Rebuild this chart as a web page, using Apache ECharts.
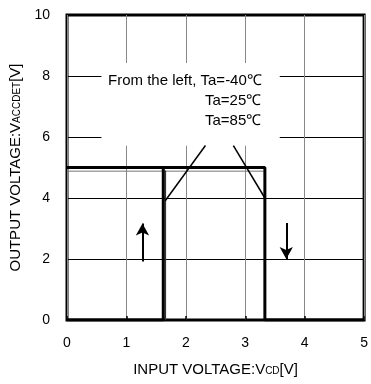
<!DOCTYPE html>
<html>
<head>
<meta charset="utf-8">
<script src="https://cdn.jsdelivr.net/npm/echarts@6/dist/echarts.min.js"></script>
<style>
  html, body { margin: 0; padding: 0; background: #fff; }
  #box { width: 371px; height: 384px; }
</style>
</head>
<body>
<div id="box"></div>
<script>
// hysteresis of output voltage vs input voltage
var xTicks = [0, 1, 2, 3, 4, 5];
var yTicks = [0, 2, 4, 6, 8, 10];

// thick outline of the loop
var fallPath = [[0, 5.0], [3.33, 5.0], [3.33, 0], [5, 0]];
var risePath = [[0, 0], [1.62, 0], [1.62, 5.0]];
// slightly lower curve (other temperatures)
var lowerPath = [[0, 4.88], [3.31, 4.88]];
var riseOther = [[1.655, 0], [1.655, 4.9]];

// callout lines: [from, to]
var callouts = [
    [[1.65, 3.9], [2.33, 5.72]],
    [[3.33, 4.0], [2.80, 5.72]]
];
// direction arrows: [from, to]
var arrows = [
    [[1.27, 1.92], [1.27, 3.16]],
    [[3.69, 3.18], [3.69, 2.0]]
];
// white box behind the note
var noteBox = [[0.58, 5.71], [3.58, 8.43]];

var noteLines = ['From the left, Ta=-40℃', 'Ta=25℃', 'Ta=85℃'];

var font = "'Liberation Sans', Arial, sans-serif";

var myChart = echarts.init(document.getElementById('box'));
var option = {
    animation: false,
    grid: {
        left: 64,
        top: 15,
        width: 301,
        height: 305,
        show: true,
        borderColor: '#000',
        borderWidth: 3
    },
    xAxis: {
        type: 'value',
        min: xTicks[0],
        max: xTicks[xTicks.length - 1],
        interval: 1,
        name: 'INPUT VOLTAGE:V{s|CD}[V]',
        nameLocation: 'middle',
        nameGap: 42,
        nameTextStyle: {
            color: '#000',
            fontFamily: font,
            fontSize: 15,
            rich: {
                s: { fontSize: 10, fontFamily: font, color: '#000', verticalAlign: 'bottom', padding: [0, 0, 1, 0] }
            }
        },
        axisLine: { show: false },
        axisTick: { show: true, inside: true, length: 4, lineStyle: { color: '#000', width: 1.5 } },
        axisLabel: { color: '#000', fontFamily: font, fontSize: 14, margin: 16 },
        splitLine: { show: true, lineStyle: { color: '#888', width: 1 } }
    },
    yAxis: {
        type: 'value',
        min: yTicks[0],
        max: yTicks[yTicks.length - 1],
        interval: 2,
        name: 'OUTPUT VOLTAGE:V{s|ACCDET}[V]',
        nameLocation: 'middle',
        nameGap: 44,
        nameTextStyle: {
            color: '#000',
            fontFamily: font,
            fontSize: 15,
            rich: {
                s: { fontSize: 10, fontFamily: font, color: '#000', verticalAlign: 'bottom', padding: [0, 0, 1, 0] }
            }
        },
        axisLine: { show: false },
        axisTick: { show: false },
        axisLabel: { color: '#000', fontFamily: font, fontSize: 14, margin: 17 },
        splitLine: { show: true, lineStyle: { color: '#000', width: 1 } }
    },
    graphic: [
        { type: 'text', z: 100, left: 108, top: 73, style: { text: noteLines[0], font: '15px ' + font, fill: '#000' } },
        { type: 'text', z: 100, left: 205, top: 93, style: { text: noteLines[1], font: '15px ' + font, fill: '#000' } },
        { type: 'text', z: 100, left: 205, top: 113, style: { text: noteLines[2], font: '15px ' + font, fill: '#000' } }
    ],
    series: [
        {
            type: 'line',
            data: lowerPath,
            symbol: 'none',
            lineStyle: { color: '#777', width: 1 },
            markArea: {
                silent: true,
                itemStyle: { color: '#fff' },
                data: [[{ coord: noteBox[0] }, { coord: noteBox[1] }]]
            }
        },
        {
            type: 'line',
            data: riseOther,
            symbol: 'none',
            lineStyle: { color: '#333', width: 1.5 }
        },
        {
            type: 'line',
            data: fallPath,
            symbol: 'none',
            lineStyle: { color: '#000', width: 3 },
            markLine: {
                silent: true,
                symbol: 'none',
                label: { show: false },
                lineStyle: { color: '#000', width: 1.5, type: 'solid' },
                data: callouts.map(function (c) { return [{ coord: c[0] }, { coord: c[1] }]; })
            }
        },
        {
            type: 'line',
            data: risePath,
            symbol: 'none',
            lineStyle: { color: '#000', width: 3 },
            markLine: {
                silent: true,
                symbol: ['none', 'arrow'],
                symbolSize: [10, 12],
                label: { show: false },
                lineStyle: { color: '#000', width: 2, type: 'solid' },
                data: arrows.map(function (a) { return [{ coord: a[0] }, { coord: a[1] }]; })
            }
        }
    ]
};
option && myChart.setOption(option);
</script>
</body>
</html>
